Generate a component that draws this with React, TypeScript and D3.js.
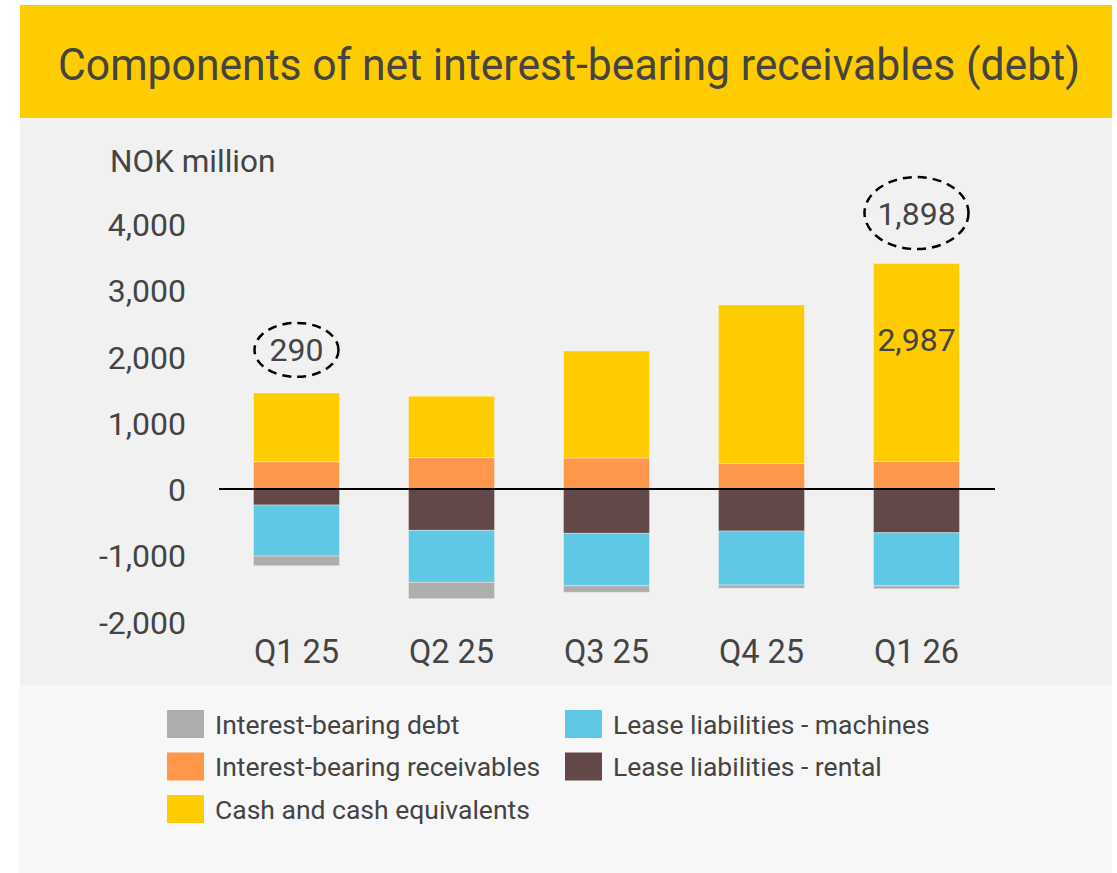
import { useRef, useEffect } from "react";
import * as d3 from "d3";

const categories = ["Q1 25", "Q2 25", "Q3 25", "Q4 25", "Q1 26"];
const receivables = [412, 473, 468, 388, 418];
const cash = [1037, 927, 1615, 2390, 2987];
const leaseRental = [-242, -624, -669, -634, -660];
const leaseMachines = [-770, -785, -791, -815, -800];
const debt = [-147, -247, -100, -50, -47];
const yTicks = [-2000, -1000, 0, 1000, 2000, 3000, 4000];

// net values shown in dashed ellipses, placed above the bars
const netNotes = [
  { cat: "Q1 25", label: "290", y: 2100, rx: 42, ry: 27 },
  { cat: "Q1 26", label: "1,898", y: 4165, rx: 52, ry: 36 },
];

const seriesKeys = ["receivables", "cash", "rental", "machines", "debt"];
const colors: Record<string, string> = {
  debt: "#AEAEAE",
  receivables: "#FF974A",
  cash: "#FFCC00",
  machines: "#5EC8E5",
  rental: "#634848",
};
const legendItems = [
  { key: "debt", label: "Interest-bearing debt", col: 0, row: 0 },
  { key: "receivables", label: "Interest-bearing receivables", col: 0, row: 1 },
  { key: "cash", label: "Cash and cash equivalents", col: 0, row: 2 },
  { key: "machines", label: "Lease liabilities - machines", col: 1, row: 0 },
  { key: "rental", label: "Lease liabilities - rental", col: 1, row: 1 },
];

const W = 1117;
const H = 873;
const textColor = "#444444";
const font = "Roboto, 'Noto Sans', sans-serif";

export default function App() {
  const svgRef = useRef<SVGSVGElement>(null);

  useEffect(() => {
    if (!svgRef.current) return;
    const svg = d3.select(svgRef.current);
    svg.selectAll("*").remove();

    // backgrounds
    svg.append("rect").attr("x", 20).attr("y", 118).attr("width", 1092).attr("height", 567).attr("fill", "#F1F1F1");
    svg.append("rect").attr("x", 19).attr("y", 685).attr("width", 1093).attr("height", 188).attr("fill", "#F7F7F7");
    svg.append("rect").attr("x", 20).attr("y", 5).attr("width", 1092).attr("height", 113).attr("fill", "#FFCC00");

    svg.append("text")
      .attr("x", 569)
      .attr("y", 80)
      .attr("text-anchor", "middle")
      .attr("fill", textColor)
      .attr("font-family", font)
      .attr("font-size", "44px")
      .attr("textLength", 1022)
      .attr("lengthAdjust", "spacingAndGlyphs")
      .text("Components of net interest-bearing receivables (debt)");

    const table = categories.map((c, i) => ({
      cat: c,
      receivables: receivables[i],
      cash: cash[i],
      rental: leaseRental[i],
      machines: leaseMachines[i],
      debt: debt[i],
    }));

    const x = d3.scaleBand<string>().domain(categories).range([219, 994]).paddingInner(0.445).paddingOuter(0.2225);
    const y = d3.scaleLinear().domain([-2000, 4000]).range([621.5, 224]);

    const stack = d3.stack<any>().keys(seriesKeys).offset(d3.stackOffsetDiverging);
    const layers = stack(table);

    const g = svg.append("g");
    g.selectAll("g.layer")
      .data(layers)
      .enter()
      .append("g")
      .attr("class", "layer")
      .attr("fill", (d) => colors[d.key])
      .selectAll("rect")
      .data((d) => d)
      .enter()
      .append("rect")
      .attr("x", (d: any) => x(d.data.cat)!)
      .attr("width", x.bandwidth())
      .attr("y", (d) => y(Math.max(d[0], d[1])))
      .attr("height", (d) => Math.abs(y(d[0]) - y(d[1])))
      .attr("stroke", "#ffffff")
      .attr("stroke-opacity", 0.35)
      .attr("stroke-width", 1);

    // zero line
    svg.append("line")
      .attr("x1", 219)
      .attr("x2", 995)
      .attr("y1", y(0))
      .attr("y2", y(0))
      .attr("stroke", "#000")
      .attr("stroke-width", 2);

    // y axis labels (plain hyphen for negatives, like the source)
    const fmt = d3.format(",");
    svg.append("g")
      .attr("transform", "translate(186,0)")
      .call(
        d3.axisLeft(y)
          .tickValues(yTicks)
          .tickFormat((d) => fmt(d as number).replace("\u2212", "-"))
          .tickSize(0)
          .tickPadding(0)
      )
      .call((a) => a.select(".domain").remove())
      .call((a) =>
        a.selectAll("text")
          .attr("fill", textColor)
          .attr("font-family", font)
          .attr("font-size", "32px")
          .attr("dy", "0.36em")
      );

    svg.append("text")
      .attr("x", 110)
      .attr("y", 172)
      .attr("fill", textColor)
      .attr("font-family", font)
      .attr("font-size", "31.5px")
      .text("NOK million");

    // x axis labels
    svg.append("g")
      .attr("transform", "translate(0,651)")
      .call(d3.axisBottom(x).tickSize(0).tickPadding(0))
      .call((a) => a.select(".domain").remove())
      .call((a) =>
        a.selectAll("text")
          .attr("fill", textColor)
          .attr("font-family", font)
          .attr("font-size", "32.5px")
          .attr("dy", "0.36em")
      );

    // label inside last cash bar
    const lastCash = layers.find((l) => l.key === "cash")![categories.length - 1];
    svg.append("text")
      .attr("x", x("Q1 26")! + x.bandwidth() / 2)
      .attr("y", y((lastCash[0] + lastCash[1]) / 2 + 350))
      .attr("dy", "0.36em")
      .attr("text-anchor", "middle")
      .attr("fill", textColor)
      .attr("font-family", font)
      .attr("font-size", "32px")
      .text("2,987");

    // dashed ellipses
    netNotes.forEach((n) => {
      const cx = x(n.cat)! + x.bandwidth() / 2;
      svg.append("ellipse")
        .attr("cx", cx)
        .attr("cy", y(n.y))
        .attr("rx", n.rx)
        .attr("ry", n.ry)
        .attr("fill", "none")
        .attr("stroke", "#000")
        .attr("stroke-width", 2.5)
        .attr("stroke-dasharray", "9,6");
      svg.append("text")
        .attr("x", cx)
        .attr("y", y(n.y))
        .attr("dy", "0.36em")
        .attr("text-anchor", "middle")
        .attr("fill", textColor)
        .attr("font-family", font)
        .attr("font-size", "32px")
        .text(n.label);
    });

    // legend
    const lg = svg.append("g");
    legendItems.forEach((it) => {
      const lx = it.col === 0 ? 167 : 565;
      const ly = 710 + it.row * 42.5;
      lg.append("rect").attr("x", lx).attr("y", ly).attr("width", 37).attr("height", 28).attr("fill", colors[it.key]);
      lg.append("text")
        .attr("x", lx + 48)
        .attr("y", ly + 14)
        .attr("dy", "0.36em")
        .attr("fill", textColor)
        .attr("font-family", font)
        .attr("font-size", "26.5px")
        .text(it.label);
    });
  }, []);

  return (
    <div style={{ position: "absolute", left: 0, top: 0 }}>
      <svg ref={svgRef} width={W} height={H} style={{ display: "block", background: "#fff" }} />
    </div>
  );
}
